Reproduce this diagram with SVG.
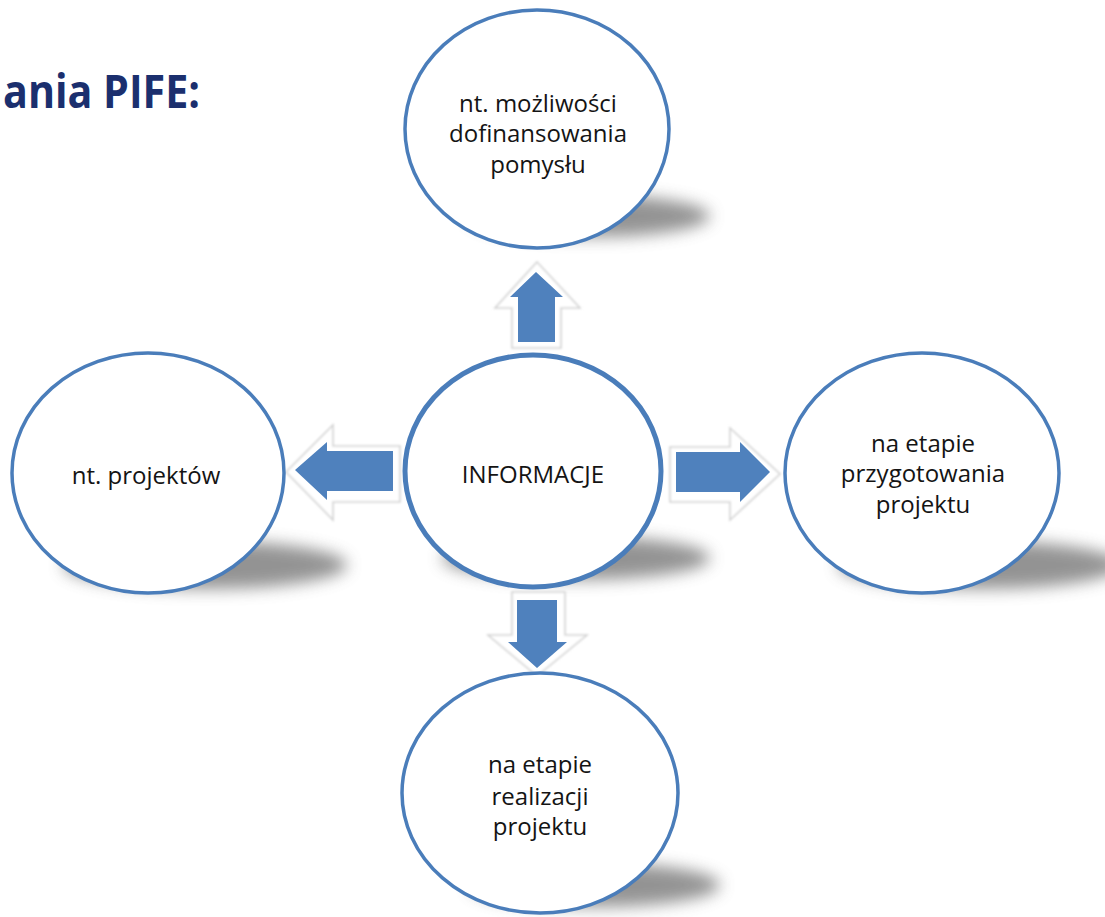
<svg xmlns="http://www.w3.org/2000/svg" width="1105" height="917" viewBox="0 0 1105 917">
<defs>
<filter id="sh" x="-30%" y="-100%" width="160%" height="300%"><feGaussianBlur stdDeviation="8"/></filter>
<filter id="ol" x="-20%" y="-20%" width="140%" height="140%"><feGaussianBlur stdDeviation="0.8"/></filter>
<style>
.shadow{fill:#707070;opacity:0.75;filter:url(#sh)}
.node{fill:#ffffff;stroke:#4a7dba;stroke-width:3.5}
.center{fill:#ffffff;stroke:#4a7dba;stroke-width:5}
.lbl{font-family:"Open Sans","Liberation Sans",sans-serif;font-size:24px;fill:#141414;text-anchor:middle}
.arrow{fill:#4f81bd}
.aout{fill:#ffffff;stroke:#d2d2d2;stroke-width:1.6;filter:url(#ol)}
.title{font-family:"Open Sans","Liberation Sans",sans-serif;font-weight:bold;font-size:46px;fill:#1b2f6e}
</style>
</defs>
<rect width="1105" height="917" fill="#ffffff"/>
<text class="title" x="3" y="108" textLength="197" lengthAdjust="spacingAndGlyphs">ania PIFE:</text>

<g id="shadows">
<ellipse class="shadow" cx="590" cy="216" rx="120" ry="21"/>
<ellipse class="shadow" cx="205" cy="565" rx="142" ry="24"/>
<ellipse class="shadow" cx="576" cy="558" rx="134" ry="22"/>
<ellipse class="shadow" cx="980" cy="565" rx="142" ry="24"/>
<ellipse class="shadow" cx="595" cy="885" rx="125" ry="22"/>
</g>

<g id="connectors">
<g id="arrow-up">
<polygon class="aout" points="537,262 580,308 561,308 561,348 512,348 512,308 495,308"/>
<polygon class="arrow" points="536,272 563,297 555,297 555,342 518,342 518,297 510,297"/>
</g>
<g id="arrow-left">
<polygon class="aout" points="286,472 333,425 333,446 400,446 400,502 333,502 333,520"/>
<polygon class="arrow" points="295,470 327,442 327,451 393,451 393,491 327,491 327,500"/>
</g>
<g id="arrow-right">
<polygon class="aout" points="670,447 730,447 730,428 780,474 730,520 730,502 670,502"/>
<polygon class="arrow" points="676,452 740,452 740,442 770,472 740,502 740,492 676,492"/>
</g>
<g id="arrow-down">
<polygon class="aout" points="512,592 565,592 565,635 587,635 537,676 488,635 512,635"/>
<polygon class="arrow" points="517,600 557,600 557,642 567,642 537,668 508,642 517,642"/>
</g>
</g>

<g id="node-top">
<ellipse class="node" cx="537" cy="129" rx="132" ry="119"/>
<text class="lbl"><tspan x="538" y="112">nt. możliwości</tspan><tspan x="538" y="142">dofinansowania</tspan><tspan x="538" y="173">pomysłu</tspan></text>
</g>

<g id="node-center">
<ellipse class="center" cx="533" cy="471" rx="128" ry="116"/>
<text class="lbl" x="533" y="483">INFORMACJE</text>
</g>

<g id="node-left">
<ellipse class="node" cx="148" cy="473" rx="136" ry="120"/>
<text class="lbl" x="146" y="484">nt. projektów</text>
</g>

<g id="node-right">
<ellipse class="node" cx="922" cy="473" rx="137" ry="120"/>
<text class="lbl"><tspan x="923" y="452">na etapie</tspan><tspan x="923" y="482">przygotowania</tspan><tspan x="923" y="513">projektu</tspan></text>
</g>

<g id="node-bottom">
<ellipse class="node" cx="540" cy="793" rx="138" ry="120"/>
<text class="lbl"><tspan x="540" y="773">na etapie</tspan><tspan x="540" y="805">realizacji</tspan><tspan x="540" y="835">projektu</tspan></text>
</g>
</svg>
